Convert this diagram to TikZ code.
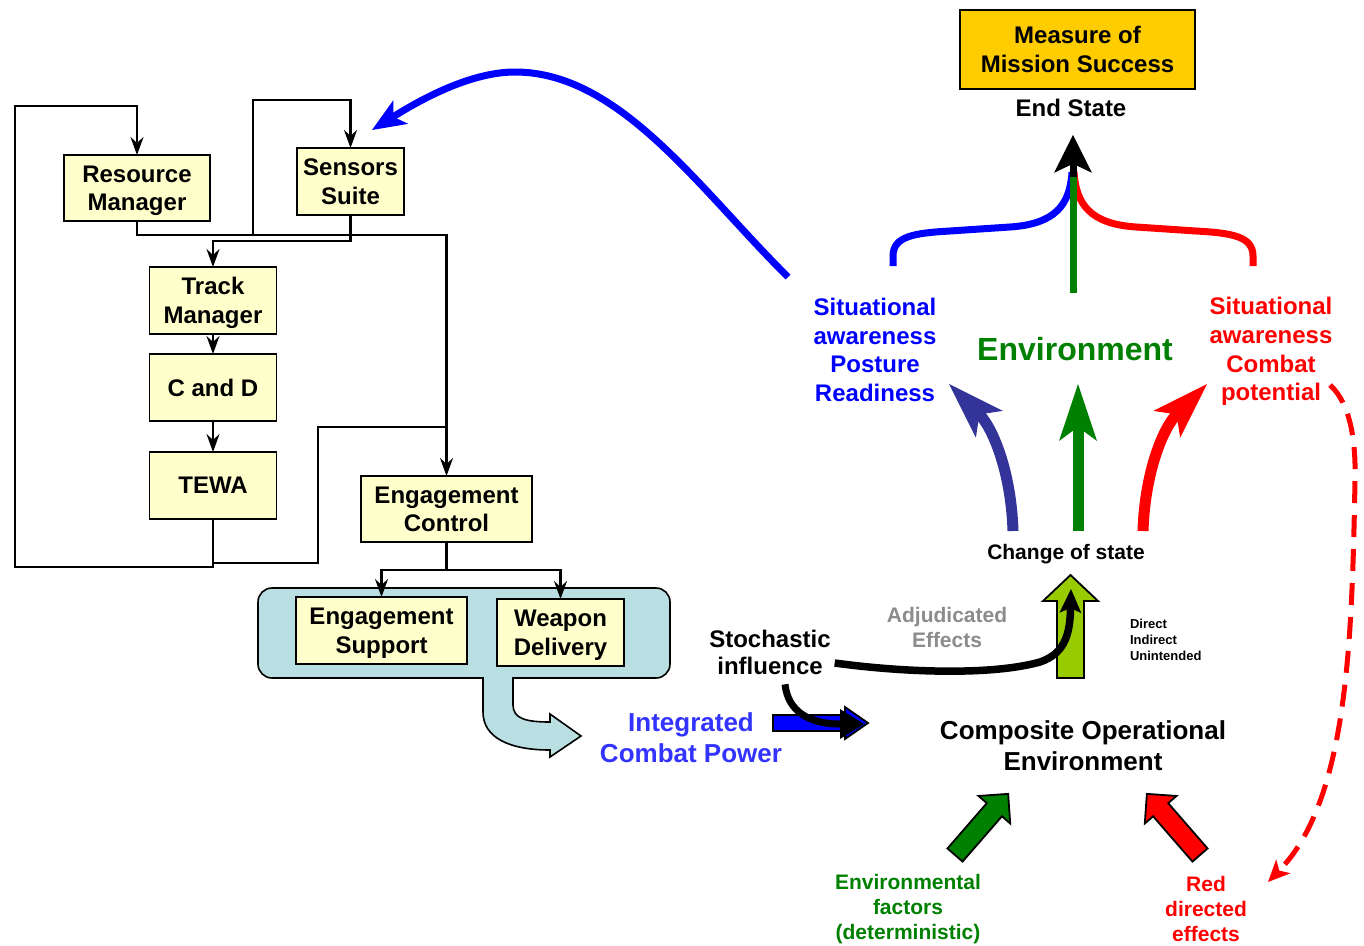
\documentclass[tikz,border=0pt]{standalone}
\usepackage{fontspec}
\setmainfont{Liberation Sans}
\usetikzlibrary{arrows.meta,calc}
\definecolor{boxyellow}{RGB}{255,255,204}
\definecolor{tealbg}{RGB}{185,223,227}
\definecolor{gold}{RGB}{255,204,0}
\definecolor{ygreen}{RGB}{153,204,0}
\definecolor{dgreen}{RGB}{0,128,0}
\definecolor{navyarrow}{RGB}{51,51,153}
\definecolor{icpblue}{RGB}{51,51,255}
\definecolor{adjgray}{RGB}{140,140,140}
\newcommand\setfs[2]{\fontsize{#1}{#2}\selectfont}
\begin{document}
\begin{tikzpicture}[x=1pt,y=-1pt,
  every node/.style={inner sep=0pt, outer sep=0pt, align=center, font=\bfseries},
  unit/.style={draw, line width=1.8pt, fill=boxyellow, text depth=0pt, font=\bfseries\setfs{24}{28.5}},
  wire/.style={line width=2.2pt},
  flow/.style={wire, -{Stealth[length=18pt,width=13pt,inset=6pt]}},
  thick arrow/.style={line width=11pt, -{Stealth[length=57pt,width=38pt,inset=14pt,line width=0pt]}},
  brace/.style={line width=7pt},
  blockarrow/.style={line width=1.8pt},
  label24/.style={font=\bfseries\setfs{24}{28.7}},
  label21/.style={font=\bfseries\setfs{21}{25}},
]
\fill[white] (0,0) rectangle (1364,945);
\useasboundingbox (0,0) rectangle (1364,945);

% ---------- weapon system chain ----------
\node[unit, minimum width=146, minimum height=66] (rm) at (137,188) {Resource\\Manager};
\node[unit, minimum width=107, minimum height=67] (ss) at (350.5,181.5) {Sensors\\Suite};
\node[unit, minimum width=127, minimum height=67] (tm) at (213,300.5) {Track\\Manager};
\node[unit, minimum width=127, minimum height=67] (cd) at (213,387.5) {C and D};
\node[unit, minimum width=127, minimum height=67] (tewa) at (213,485.5) {TEWA};
\node[unit, minimum width=171, minimum height=66] (ec) at (446.5,509) {Engagement\\Control};
\node[draw, line width=1.6pt, fill=tealbg, rounded corners=14pt,
      minimum width=412, minimum height=90] (grp) at (464,633) {};
\node[unit, minimum width=171, minimum height=67] (es) at (381.5,630.5) {Engagement\\Support};
\node[unit, minimum width=127, minimum height=67] (wd) at (560.5,632.5) {Weapon\\Delivery};

% wiring between the units
\draw[flow] (rm.south) -- ++(0,14) coordinate (rmout) -| (ec.north);
\coordinate (sloop) at ($(rmout)+(116,0)$);
\draw[flow] (sloop) |- ($(ss.north)+(0,-48)$) -- (ss.north);
\draw[flow] (ss.south) -- ++(0,26) -| (tm.north);
\draw[flow] (tm.south) -- (cd.north);
\draw[flow] (cd.south) -- (tewa.north);
\draw[flow] (tewa.south) -- ++(0,48) -| (15,106) -| (rm.north);
\draw[wire] ($(tewa.south)+(0,44)$) -| (318,427) -- ($(ec.north)+(0,-49)$);
\draw[wire] (ec.south) -- ++(0,28) coordinate (ecout);
\draw[flow] (ecout) -| (es.north);
\draw[flow] (ecout) -| (wd.north);

% output of the weapon group
\draw[fill=tealbg, line width=1.6pt] (483,678) -- (483,712)
  .. controls (483,738) and (510,750) .. (550,750) -- (550,757) -- (581,736)
  -- (550,714) -- (550,722) .. controls (527,722) and (513,719) .. (513,705)
  -- (513,678) -- cycle;
\fill[tealbg] (483.8,670) rectangle (512.2,679.2);

\node[font=\bfseries\setfs{26}{31}, text=icpblue] (icp) at (691,738) {Integrated\\Combat Power};
\draw[fill=blue, blockarrow] (773,715) -- (845,715) -- (845,707) -- (868,723)
  -- (845,739) -- (845,731) -- (773,731) -- cycle;

% ---------- effects ----------
\node[font=\bfseries\setfs{24}{27}] (stoch) at (770,652) {Stochastic\\influence};
\node[label21, text=adjgray] (adj) at (947,627) {Adjudicated\\Effects};
\node[font=\bfseries\setfs{13}{16}, align=left, anchor=west] (dii) at (1130,640) {Direct\\Indirect\\Unintended};

\draw[line width=7pt, -{Triangle[length=24pt,width=30pt,line width=0pt]}]
  ($(stoch.south)+(15,10)$) .. controls (788,712) and (810,724) .. (864,724);

\draw[fill=ygreen, blockarrow] (1057,678) -- (1057,601) -- (1043,601) -- (1070.5,575)
  -- (1098,601) -- (1084,601) -- (1084,678) -- cycle;
\draw[line width=7.5pt, -{Stealth[length=24pt,width=22pt,inset=5pt,line width=0pt]}]
  ($(stoch.east)+(4,11)$) .. controls (900,672) and (990,676) .. (1040,662)
  .. controls (1067,653) and (1070,630) .. (1071,589);

\node[label21] (chg) at (1066,554) {Change of state};
\node[font=\bfseries\setfs{26}{31}] (cope) at (1083,746) {Composite Operational\\Environment};

\draw[navyarrow, thick arrow] (1013,531) .. controls (1011,470) and (992,427) .. (949,384);
\draw[dgreen, thick arrow] (1078,531) -- (1078,384);
\draw[red, thick arrow] (1143,531) .. controls (1145,470) and (1164,427) .. (1207,384);

% external inputs
\draw[fill=dgreen, blockarrow, shift={(955,855)}, rotate=49]
  (0,-10) -- (60,-10) -- (60,-21) -- (81,0) -- (60,21) -- (60,10) -- (0,10) -- cycle;
\draw[fill=red, blockarrow, shift={(1200,855)}, rotate=131]
  (0,-10) -- (60,-10) -- (60,-21) -- (81,0) -- (60,21) -- (60,10) -- (0,10) -- cycle;
\node[label21, text=dgreen] (envf) at (908,909) {Environmental\\factors\\(deterministic)};
\node[label21, text=red] (redd) at (1206,909) {Red\\directed\\effects};

% ---------- end state ----------
\node[draw, line width=2.5pt, fill=gold, minimum width=235, minimum height=79,
      font=\bfseries\setfs{24}{29}] (mms) at (1077.5,49.5) {Measure of\\Mission Success};
\node[label24] (endst) at (1071,108) {End State};

\node[label24, text=blue] (sitL) at (875,350) {Situational\\awareness\\Posture\\Readiness};
\node[font=\bfseries\setfs{32}{36}, text=dgreen] (envlab) at (1075,349) {Environment};
\node[label24, text=red] (sitR) at (1271,351.5) {Situational\\awareness\\Combat\\potential};

\draw[blue, brace] (893,266) -- (893,256) .. controls (893,236) and (915,233) .. (950,231)
  -- (1010,227) .. controls (1055,224) and (1070,205) .. (1072,172);
\draw[red, brace] (1253,266) -- (1253,256) .. controls (1253,236) and (1231,233) .. (1196,231)
  -- (1136,227) .. controls (1091,224) and (1076,205) .. (1074,172);
\draw[dgreen, brace] (1073,293) -- (1073,172);
\draw[line width=7pt, -{Stealth[length=38pt,width=38pt,inset=9pt,line width=0pt]}]
  (1073,177) -- ($(endst.south)+(2,18)$);

% feedback to the sensors
\coordinate (fb) at (788,277);
\draw[blue, line width=7pt, -{Stealth[length=34pt,width=28pt,inset=9pt,line width=0pt]}]
  (fb) .. controls (700,190) and (620,72) .. (515,72)
  .. controls (470,72) and (420,100) .. ($(ss.north east)+(-32,-18)$);

% red potential feeding the red directed effects
\coordinate (rd0) at (1330,385);
\draw[red, line width=5pt, dash pattern=on 22pt off 12pt,
      -{Stealth[length=22pt,width=20pt,inset=6pt,line width=0pt]}]
  (rd0) .. controls (1350,403) and (1356,440) .. (1355,480)
  .. controls (1352,640) and (1348,800) .. (1268,882);
\end{tikzpicture}
\end{document}
